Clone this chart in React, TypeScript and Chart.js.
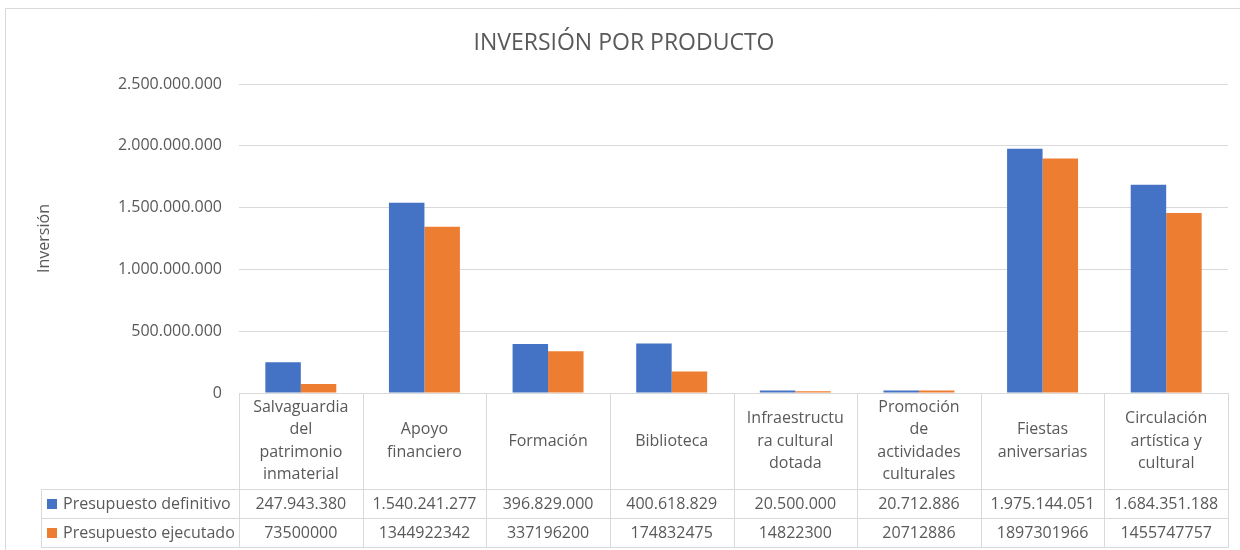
import React, { useEffect, useRef } from "react";
import { Chart, registerables } from "chart.js";

Chart.register(...registerables);

const chartTitle = "INVERSIÓN POR PRODUCTO";
const yAxisTitle = "Inversión";
const categoryLines: string[][] = [
  ["Salvaguardia", "del", "patrimonio", "inmaterial"],
  ["Apoyo", "financiero"],
  ["Formación"],
  ["Biblioteca"],
  ["Infraestructu", "ra cultural", "dotada"],
  ["Promoción", "de", "actividades", "culturales"],
  ["Fiestas", "aniversarias"],
  ["Circulación", "artística y", "cultural"],
];
const categories = categoryLines.map((l) => l.join(" "));
const seriesNames = ["Presupuesto definitivo", "Presupuesto ejecutado"];
const definitivo = [247943380, 1540241277, 396829000, 400618829, 20500000, 20712886, 1975144051, 1684351188];
const ejecutado = [73500000, 1344922342, 337196200, 174832475, 14822300, 20712886, 1897301966, 1455747757];
const yMin = 0;
const yMax = 2500000000;
const yStep = 500000000;

const BLUE = "#4472C4";
const ORANGE = "#ED7D31";
const TEXT = "#595959";
const LINE = "#D9D9D9";
const FONT = "'Open Sans', sans-serif";

const dots = (v: number) => Math.round(v).toString().replace(/\B(?=(\d{3})+(?!\d))/g, ".");

const tablePlugin = {
  id: "excelTable",
  beforeDraw(chart: any) {
    const ctx = chart.ctx;
    ctx.save();
    ctx.strokeStyle = LINE;
    ctx.lineWidth = 1;
    ctx.beginPath();
    ctx.moveTo(5.5, 560);
    ctx.lineTo(5.5, 8.5);
    ctx.lineTo(1240, 8.5);
    ctx.stroke();
    ctx.fillStyle = TEXT;
    ctx.font = `23px ${FONT}`;
    ctx.textAlign = "center";
    ctx.textBaseline = "middle";
    ctx.fillText(chartTitle, 624, 43);
    ctx.restore();
  },
  afterDraw(chart: any) {
    const ctx = chart.ctx;
    const area = chart.chartArea;
    const xs = chart.scales.x;
    const n = categories.length;
    const colW = (area.right - area.left) / n;
    const top = Math.round(area.bottom);
    const headerBottom = top + 96;
    const row1Bottom = headerBottom + 29;
    const row2Bottom = row1Bottom + 29;
    const legendLeft = 41;
    const right = Math.round(area.right);
    ctx.save();
    ctx.strokeStyle = LINE;
    ctx.lineWidth = 1;
    ctx.beginPath();
    const h = (y: number, x0: number, x1: number) => {
      ctx.moveTo(x0, y + 0.5);
      ctx.lineTo(x1, y + 0.5);
    };
    const v = (x: number, y0: number, y1: number) => {
      ctx.moveTo(x + 0.5, y0);
      ctx.lineTo(x + 0.5, y1);
    };
    h(top, area.left, right + 1);
    h(headerBottom, legendLeft, right + 1);
    h(row1Bottom, legendLeft, right + 1);
    h(row2Bottom, legendLeft, right + 1);
    for (let i = 0; i <= n; i++) {
      const x = Math.round(area.left + i * colW);
      v(Math.min(x, right), top, row2Bottom + 1);
    }
    v(legendLeft, headerBottom, row2Bottom + 1);
    ctx.stroke();

    ctx.fillStyle = TEXT;
    ctx.font = `16px ${FONT}`;
    ctx.textAlign = "center";
    ctx.textBaseline = "middle";
    const lh = 22.3;
    const headerMid = (top + headerBottom) / 2;
    const r1 = (headerBottom + row1Bottom) / 2 + 0.5;
    const r2 = (row1Bottom + row2Bottom) / 2 + 0.5;
    for (let i = 0; i < n; i++) {
      const cx = xs.getPixelForValue(i);
      const lines = categoryLines[i];
      const start = headerMid - ((lines.length - 1) * lh) / 2;
      lines.forEach((t, j) => ctx.fillText(t, cx, start + j * lh));
      ctx.fillText(dots(definitivo[i]), cx, r1);
      ctx.fillText(String(ejecutado[i]), cx, r2);
    }
    ctx.textAlign = "left";
    ctx.fillStyle = BLUE;
    ctx.fillRect(47, r1 - 5, 10, 10);
    ctx.fillStyle = ORANGE;
    ctx.fillRect(47, r2 - 5, 10, 10);
    ctx.fillStyle = TEXT;
    ctx.fillText(seriesNames[0], 63, r1);
    ctx.fillText(seriesNames[1], 63, r2);
    ctx.restore();
  },
};

export default function App() {
  const ref = useRef<HTMLCanvasElement>(null);
  useEffect(() => {
    if (!ref.current) return;
    const chart = new Chart(ref.current, {
      type: "bar",
      data: {
        labels: categories,
        datasets: [
          { label: seriesNames[0], data: definitivo, backgroundColor: BLUE, categoryPercentage: 0.574, barPercentage: 1 },
          { label: seriesNames[1], data: ejecutado, backgroundColor: ORANGE, categoryPercentage: 0.574, barPercentage: 1 },
        ],
      },
      options: {
        animation: false,
        responsive: false,
        devicePixelRatio: 1,
        layout: { padding: { top: 84, bottom: 157, right: 12, left: 0 } },
        plugins: { legend: { display: false }, title: { display: false }, tooltip: { enabled: false } },
        scales: {
          x: { display: false },
          y: {
            min: yMin,
            max: yMax,
            afterFit: (s: any) => {
              s.width = 239;
            },
            ticks: {
              stepSize: yStep,
              color: TEXT,
              font: { family: FONT, size: 16 },
              padding: 17,
              callback: (val: any) => dots(Number(val)),
            },
            grid: { color: LINE, drawTicks: false, lineWidth: 1 },
            border: { display: false },
            title: {
              display: true,
              text: yAxisTitle,
              color: TEXT,
              font: { family: FONT, size: 16 },
              padding: { top: 35, bottom: 0 },
            },
          },
        },
      },
      plugins: [tablePlugin],
    });
    return () => chart.destroy();
  }, []);
  return (
    <div style={{ position: "absolute", left: 0, top: 0, width: 1240, height: 550, background: "#fff" }}>
      <canvas ref={ref} width={1240} height={550} />
    </div>
  );
}
